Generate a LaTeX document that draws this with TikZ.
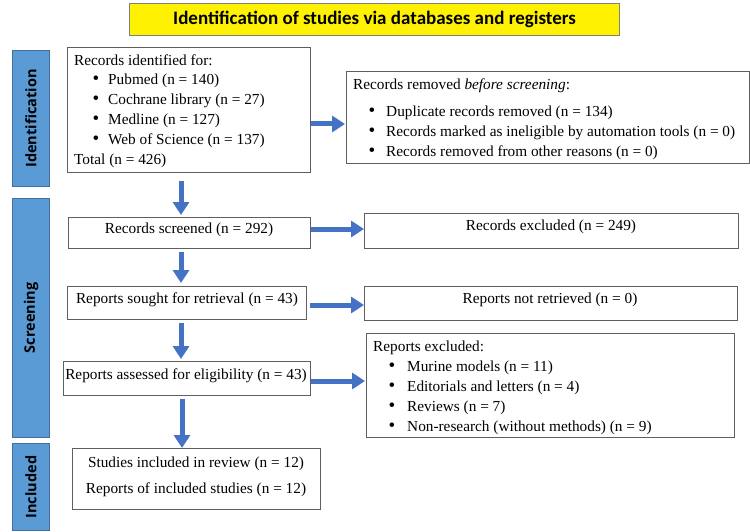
\documentclass[tikz,border=0pt]{standalone}
\usepackage{fontspec}
\setmainfont{Liberation Serif}
\newfontfamily\titlefont{Carlito}
\newfontfamily\sidefont{Open Sans}
\usetikzlibrary{arrows.meta}
\definecolor{barblue}{HTML}{5B9BD5}
\definecolor{barline}{HTML}{41719C}
\definecolor{arrowblue}{HTML}{4472C4}
\definecolor{boxline}{HTML}{5F5F5F}
\definecolor{titleline}{HTML}{808080}
\begin{document}
\begin{tikzpicture}[x=1pt,y=-1pt,
  box/.style={draw=boxline, line width=0.9pt, fill=white, inner sep=0, anchor=north west},
  bar/.style={draw=barline, line width=1pt, fill=barblue, inner sep=0, anchor=north west},
  txt/.style={inner sep=0, font=\fontsize{15.3}{18}\selectfont, text height=10.5pt, text depth=3pt},
  ltxt/.style={txt, anchor=west},
  bul/.style={txt, anchor=center, font=\fontsize{19}{18}\selectfont},
  flow/.style={draw=arrowblue, line width=5pt, -{Triangle[length=13pt,width=16pt]}},
  sidelabel/.style={rotate=90, font=\sidefont\bfseries\fontsize{14.5}{16}\selectfont, inner sep=0}]
\useasboundingbox (0,0) rectangle (750,532);

% title
\node[draw=titleline, line width=1.1pt, fill=yellow, anchor=north west, minimum width=490pt, minimum height=32pt, inner sep=0] (title) at (129,3) {};
\node[font=\titlefont\bfseries\fontsize{19}{22}\selectfont, inner sep=0] (titletext) at (title.center) {Identification of studies via databases and registers};

% side bars
\node[bar, minimum width=37pt, minimum height=136pt] (barI) at (12,50) {};
\node[bar, minimum width=37pt, minimum height=239pt] (barS) at (12,198) {};
\node[bar, minimum width=37pt, minimum height=87pt] (barN) at (12,443) {};
\node[sidelabel] (labI) at (barI.center) {Identification};
\node[sidelabel] (labS) at (barS.center) {Screening};
\node[sidelabel] (labN) at (barN.center) {Included};

% boxes
\node[box, minimum width=243pt, minimum height=125pt] (ident) at (67,47) {};
\node[box, minimum width=403pt, minimum height=92pt] (removed) at (346,71) {};
\node[box, minimum width=242pt, minimum height=31pt] (screened) at (68,217) {};
\node[box, minimum width=374pt, minimum height=35pt] (excl) at (364,213) {};
\node[box, minimum width=239pt, minimum height=33pt] (sought) at (67,286) {};
\node[box, minimum width=373pt, minimum height=34pt] (notret) at (364,286) {};
\node[box, minimum width=247pt, minimum height=34pt] (assessed) at (63,361) {};
\node[box, minimum width=368pt, minimum height=104pt] (exrep) at (366,333) {};
\node[box, minimum width=248pt, minimum height=61pt] (incl) at (72,448) {};

% identification box text
\node[ltxt] (i0) at (74,62) {Records identified for:};
\node[bul] (ib1) at (96,81) {\textbullet};
\node[ltxt] (i1) at (108,81) {Pubmed (n = 140)};
\node[bul] (ib2) at (96,101) {\textbullet};
\node[ltxt] (i2) at (108,101) {Cochrane library (n = 27)};
\node[bul] (ib3) at (96,121) {\textbullet};
\node[ltxt] (i3) at (108,121) {Medline (n = 127)};
\node[bul] (ib4) at (96,141) {\textbullet};
\node[ltxt] (i4) at (108,141) {Web of Science (n = 137)};
\node[ltxt] (i5) at (74,161) {Total (n = 426)};

% removed box text
\node[ltxt] (r0) at (353,86) {Records removed \textit{before screening}:};
\node[bul] (rb1) at (372,113) {\textbullet};
\node[ltxt] (r1) at (386,113) {Duplicate records removed (n = 134)};
\node[bul] (rb2) at (372,133) {\textbullet};
\node[ltxt] (r2) at (386,133) {Records marked as ineligible by automation tools (n = 0)};
\node[bul] (rb3) at (372,153) {\textbullet};
\node[ltxt] (r3) at (386,153) {Records removed from other reasons (n = 0)};

% single line boxes
\node[txt] (t1) at (189,230) {Records screened (n = 292)};
\node[txt] (t2) at (551,227) {Records excluded (n = 249)};
\node[txt] (t3) at (187,300) {Reports sought for retrieval (n = 43)};
\node[txt] (t4) at (550,300) {Reports not retrieved (n = 0)};
\node[txt] (t5) at (186,376) {Reports assessed for eligibility (n = 43)};

% reports excluded
\node[ltxt] (e0) at (373,348) {Reports excluded:};
\node[bul] (eb1) at (392,368) {\textbullet};
\node[ltxt] (e1) at (407,368) {Murine models (n = 11)};
\node[bul] (eb2) at (392,388) {\textbullet};
\node[ltxt] (e2) at (407,388) {Editorials and letters (n = 4)};
\node[bul] (eb3) at (392,408) {\textbullet};
\node[ltxt] (e3) at (407,408) {Reviews (n = 7)};
\node[bul] (eb4) at (392,428) {\textbullet};
\node[ltxt] (e4) at (407,428) {Non-research (without methods) (n = 9)};

% included
\node[txt] (n1) at (196,464) {Studies included in review (n = 12)};
\node[txt] (n2) at (196,490) {Reports of included studies (n = 12)};

% arrows
\draw[flow] (ident.east |- 0,124) -- ([xshift=-1pt]removed.west |- 0,124);
\draw[flow] (screened.east |- 0,229) -- (excl.west |- 0,229);
\draw[flow] ([xshift=3pt]sought.east |- 0,305) -- (notret.west |- 0,305);
\draw[flow] (assessed.east |- 0,381) -- ([xshift=-1pt]exrep.west |- 0,381);

\draw[flow, shorten <=8pt, shorten >=2pt] (ident.south -| 181,0) -- (screened.north -| 181,0);
\draw[flow, shorten <=3pt, shorten >=3pt] (screened.south -| 181,0) -- (sought.north -| 181,0);
\draw[flow, shorten <=3pt, shorten >=2pt] (sought.south -| 181,0) -- (assessed.north -| 181,0);
\draw[flow, shorten <=3pt] (assessed.south -| 182,0) -- (incl.north -| 182,0);
\end{tikzpicture}
\end{document}
